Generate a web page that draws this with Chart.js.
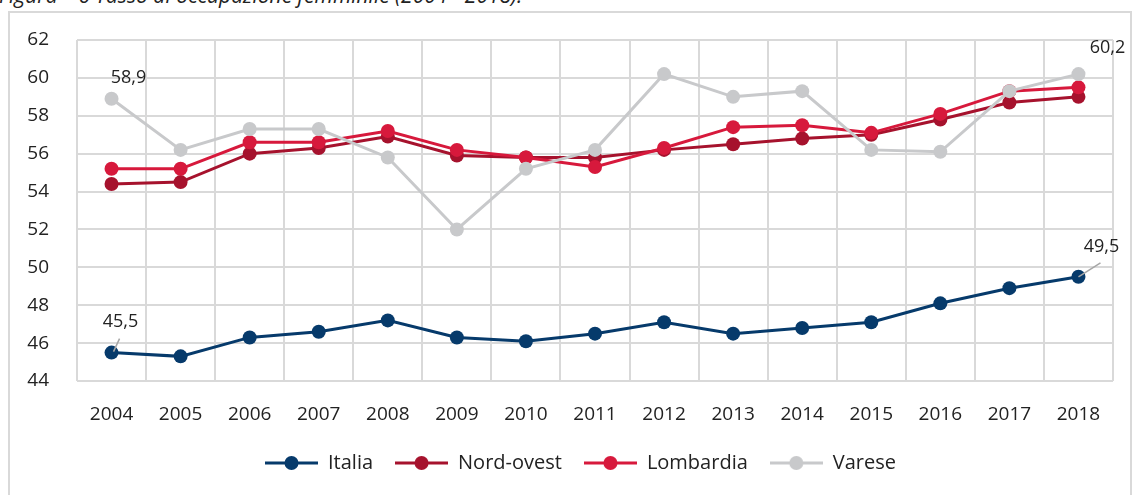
<!DOCTYPE html>
<html>
<head>
<meta charset="utf-8">
<script src="https://cdn.jsdelivr.net/npm/chart.js@4.4.1/dist/chart.umd.min.js"></script>
<style>
  html, body { margin: 0; padding: 0; background: #fff; }
  body { width: 1132px; height: 495px; position: relative; overflow: hidden; font-family: "Open Sans", sans-serif; }
  .title { position: absolute; left: -1px; top: -17px; font-size: 21px; font-style: italic; color: #222; white-space: nowrap; line-height: 24px; }
  .frame { position: absolute; left: 8px; top: 11px; width: 1124px; height: 490px; border: 2px solid #d9d9d9; box-sizing: border-box; }
  #chart { position: absolute; left: 0; top: 0; }
</style>
</head>
<body>
<div class="title">Figura – 6 Tasso di occupazione femminile (2004 - 2018).</div>
<div class="frame"></div>
<canvas id="chart" width="1132" height="495"></canvas>
<script>
const years = ["2004", "2005", "2006", "2007", "2008", "2009", "2010", "2011", "2012", "2013", "2014", "2015", "2016", "2017", "2018"];
const italia = [45.5, 45.3, 46.3, 46.6, 47.2, 46.3, 46.1, 46.5, 47.1, 46.5, 46.8, 47.1, 48.1, 48.9, 49.5];
const nordOvest = [54.4, 54.5, 56.0, 56.3, 56.9, 55.9, 55.8, 55.8, 56.2, 56.5, 56.8, 57.0, 57.8, 58.7, 59.0];
const lombardia = [55.2, 55.2, 56.6, 56.6, 57.2, 56.2, 55.8, 55.3, 56.3, 57.4, 57.5, 57.1, 58.1, 59.3, 59.5];
const varese = [58.9, 56.2, 57.3, 57.3, 55.8, 52.0, 55.2, 56.2, 60.2, 59.0, 59.3, 56.2, 56.1, 59.3, 60.2];
const yTicks = [44, 46, 48, 50, 52, 54, 56, 58, 60, 62];

const FONT = '"Open Sans", sans-serif';

// little line-with-dot icon for the legend
function legendIcon(color) {
  const c = document.createElement("canvas");
  c.width = 53; c.height = 16;
  const g = c.getContext("2d");
  g.strokeStyle = color; g.lineWidth = 3;
  g.beginPath(); g.moveTo(0, 8); g.lineTo(53, 8); g.stroke();
  g.fillStyle = color;
  g.beginPath(); g.arc(26.5, 8, 7, 0, Math.PI * 2); g.fill();
  return c;
}

function series(label, data, color, order) {
  return {
    label, data, order,
    borderColor: color,
    backgroundColor: color,
    borderWidth: 3,
    pointRadius: 7,
    pointHoverRadius: 7,
    pointBorderWidth: 0,
    pointStyle: "circle",
    tension: 0
  };
}

// value labels with small leader lines
const valueLabels = {
  id: "valueLabels",
  afterDatasetsDraw(chart) {
    const ctx = chart.ctx;
    const marks = [
      { ds: 3, i: 0, dx: 17, dy: -21 },
      { ds: 3, i: 14, dx: 29, dy: -26 },
      { ds: 0, i: 0, dx: 9, dy: -31, lead: [2, -1, 8, -14] },
      { ds: 0, i: 14, dx: 23, dy: -30, lead: [0, 0, 22, -14] }
    ];
    ctx.save();
    ctx.font = "18px " + FONT;
    ctx.fillStyle = "#222";
    ctx.textAlign = "center";
    ctx.textBaseline = "middle";
    marks.forEach(m => {
      const pt = chart.getDatasetMeta(m.ds).data[m.i];
      const v = chart.data.datasets[m.ds].data[m.i];
      if (m.lead) {
        ctx.strokeStyle = "#a6a6a6";
        ctx.lineWidth = 1.5;
        ctx.beginPath();
        ctx.moveTo(pt.x + m.lead[0], pt.y + m.lead[1]);
        ctx.lineTo(pt.x + m.lead[2], pt.y + m.lead[3]);
        ctx.stroke();
      }
      ctx.fillText(v.toFixed(1).replace(".", ","), pt.x + m.dx, pt.y + m.dy);
    });
    ctx.restore();
  }
};

// nudge the legend a bit to the right, like the original
const legendShift = {
  id: "legendShift",
  afterLayout(chart) {
    chart.legend.left += 24;
    chart.legend.right += 24;
  }
};

new Chart(document.getElementById("chart"), {
  type: "line",
  data: {
    labels: years,
    datasets: [
      series("Italia", italia, "#063a6b", 3),
      series("Nord-ovest", nordOvest, "#a6122d", 2),
      series("Lombardia", lombardia, "#d7193c", 1),
      series("Varese", varese, "#c8c9cb", 0)
    ]
  },
  options: {
    responsive: false,
    animation: false,
    layout: {
      padding: { top: 40, right: 19, left: 0, bottom: 12 }
    },
    plugins: {
      legend: {
        position: "bottom",
        labels: {
          usePointStyle: true,
          pointStyleWidth: 53,
          padding: 22,
          color: "#222",
          font: { family: FONT, size: 20 },
          generateLabels: chart => {
            const items = Chart.defaults.plugins.legend.labels.generateLabels(chart);
            items.forEach(it => {
              it.pointStyle = legendIcon(chart.data.datasets[it.datasetIndex].borderColor);
            });
            return items;
          },
          sort: (a, b) => a.datasetIndex - b.datasetIndex
        }
      },
      tooltip: { enabled: false }
    },
    scales: {
      x: {
        offset: true,
        grid: { color: "#d9d9d9", lineWidth: 2, drawTicks: false, offset: true },
        border: { display: false },
        ticks: { color: "#222", padding: 22, font: { family: FONT, size: 19 } },
        afterFit: s => { s.height = 50; }
      },
      y: {
        min: 44,
        max: 62,
        afterBuildTicks: s => { s.ticks = yTicks.map(v => ({ value: v })); },
        grid: { color: "#d9d9d9", lineWidth: 2, drawTicks: false },
        border: { display: false },
        ticks: { color: "#222", padding: 28, font: { family: FONT, size: 19 } },
        afterFit: s => { s.width = 77; }
      }
    }
  },
  plugins: [valueLabels, legendShift]
});
</script>
</body>
</html>
